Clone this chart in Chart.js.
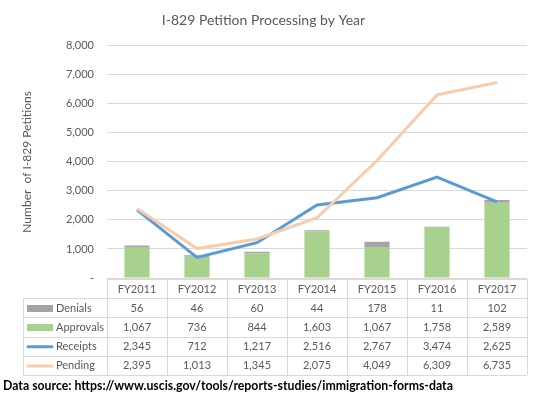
<!DOCTYPE html>
<html>
<head>
<meta charset="utf-8">
<script src="https://cdn.jsdelivr.net/npm/chart.js@4.4.1/dist/chart.umd.min.js"></script>
<style>
  html, body { margin: 0; padding: 0; background: #fff; }
  #wrap { width: 541px; height: 396px; }
</style>
</head>
<body>
<div id="wrap"><canvas id="chart"></canvas></div>
<script>
// Data
const years = ['FY2011', 'FY2012', 'FY2013', 'FY2014', 'FY2015', 'FY2016', 'FY2017'];
const denials = [56, 46, 60, 44, 178, 11, 102];
const approvals = [1067, 736, 844, 1603, 1067, 1758, 2589];
const receipts = [2345, 712, 1217, 2516, 2767, 3474, 2625];
const pending = [2395, 1013, 1345, 2075, 4049, 6309, 6735];
const yMax = 8000;
const yStep = 1000;

const FONT = 'Lato, "Open Sans", sans-serif';
const TEXT = '#595959';
const GRID = '#D9D9D9';

// Rows of the data table under the plot (legend keys included)
const tableRows = [
    { label: 'Denials', values: denials, color: '#A5A5A5', key: 'box' },
    { label: 'Approvals', values: approvals, color: '#A9D18E', key: 'box' },
    { label: 'Receipts', values: receipts, color: '#5B9BD5', key: 'line' },
    { label: 'Pending', values: pending, color: '#F8CBAD', key: 'line' }
];

const fmt = v => v.toLocaleString('en-US');

const dataTable = {
    id: 'dataTable',
    afterDraw(chart) {
        const { ctx, chartArea } = chart;
        const x = chart.scales.x;
        const step = x.getPixelForValue(1) - x.getPixelForValue(0);
        const left = Math.round(x.getPixelForValue(0) - step / 2);
        const right = Math.round(x.getPixelForValue(years.length - 1) + step / 2);
        const top = Math.round(chartArea.bottom) + 1;
        const rowH = 19.2;
        const keyLeft = 23;
        const bottom = top + rowH * (tableRows.length + 1);

        ctx.save();
        ctx.strokeStyle = GRID;
        ctx.lineWidth = 1;
        ctx.beginPath();
        // horizontal lines
        for (let r = 0; r <= tableRows.length + 1; r++) {
            const y = Math.round(top + r * rowH) + 0.5;
            ctx.moveTo(r === 0 ? left : keyLeft, y);
            ctx.lineTo(right, y);
        }
        // vertical lines
        for (let c = 0; c <= years.length; c++) {
            const xx = Math.round(left + c * step) + 0.5;
            ctx.moveTo(xx, top);
            ctx.lineTo(xx, bottom);
        }
        ctx.moveTo(keyLeft + 0.5, Math.round(top + rowH));
        ctx.lineTo(keyLeft + 0.5, Math.round(bottom));
        ctx.stroke();

        ctx.font = '11px ' + FONT;
        ctx.fillStyle = TEXT;
        ctx.textAlign = 'center';
        ctx.textBaseline = 'middle';
        years.forEach((yr, i) => {
            ctx.fillText(yr, x.getPixelForValue(i), top + rowH / 2 + 0.5);
        });

        tableRows.forEach((row, r) => {
            const cy = top + rowH * (r + 1) + rowH / 2 + 0.5;
            // legend key
            if (row.key === 'box') {
                ctx.fillStyle = row.color;
                ctx.fillRect(keyLeft + 4, Math.round(cy - 3.5), 26, 7);
            } else {
                ctx.strokeStyle = row.color;
                ctx.lineWidth = 3;
                ctx.lineCap = 'round';
                ctx.beginPath();
                ctx.moveTo(keyLeft + 5, cy);
                ctx.lineTo(keyLeft + 29, cy);
                ctx.stroke();
            }
            ctx.fillStyle = TEXT;
            ctx.textAlign = 'left';
            ctx.fillText(row.label, keyLeft + 33, cy);
            ctx.textAlign = 'center';
            row.values.forEach((v, i) => {
                ctx.fillText(fmt(v), x.getPixelForValue(i), cy);
            });
        });

        // source note
        ctx.font = 'bold 12.3px ' + FONT;
        ctx.fillStyle = '#000';
        ctx.textAlign = 'left';
        ctx.fillText('Data source: https://www.uscis.gov/tools/reports-studies/immigration-forms-data', 3, 386);
        ctx.restore();
    }
};

new Chart(document.getElementById('chart'), {
    type: 'bar',
    data: {
        labels: years,
        datasets: [
            {
                type: 'line', label: 'Pending', data: pending, stack: 'p', order: 0,
                borderColor: '#F8CBAD', borderWidth: 3, pointRadius: 0, tension: 0
            },
            {
                type: 'line', label: 'Receipts', data: receipts, stack: 'r', order: 1,
                borderColor: '#5B9BD5', borderWidth: 3, pointRadius: 0, tension: 0
            },
            {
                label: 'Approvals', data: approvals, stack: 'b', order: 2,
                backgroundColor: '#A9D18E', barPercentage: 0.84, categoryPercentage: 0.5
            },
            {
                label: 'Denials', data: denials, stack: 'b', order: 3,
                backgroundColor: '#A5A5A5', barPercentage: 0.84, categoryPercentage: 0.5
            }
        ]
    },
    options: {
        responsive: true,
        maintainAspectRatio: false,
        animation: false,
        layout: { padding: { left: 0, right: 14, top: 0, bottom: 118 } },
        plugins: {
            legend: { display: false },
            tooltip: { enabled: false },
            title: {
                display: true,
                text: 'I-829 Petition Processing by Year',
                color: TEXT,
                font: { family: FONT, size: 14, weight: 'normal' },
                padding: { top: 12, bottom: 17 }
            }
        },
        scales: {
            x: { display: false, stacked: true },
            y: {
                stacked: true,
                min: 0,
                max: yMax,
                afterFit: s => { s.width = 107; },
                border: { display: false },
                grid: { color: GRID, drawTicks: false },
                ticks: {
                    stepSize: yStep,
                    padding: 13,
                    color: TEXT,
                    font: { family: FONT, size: 11 },
                    callback: v => v === 0 ? '-' : fmt(v)
                },
                title: {
                    display: true,
                    text: 'Number  of I-829 Petitions',
                    color: TEXT,
                    font: { family: FONT, size: 12 },
                    padding: { top: 20, bottom: 0 }
                }
            }
        }
    },
    plugins: [dataTable]
});
</script>
</body>
</html>
